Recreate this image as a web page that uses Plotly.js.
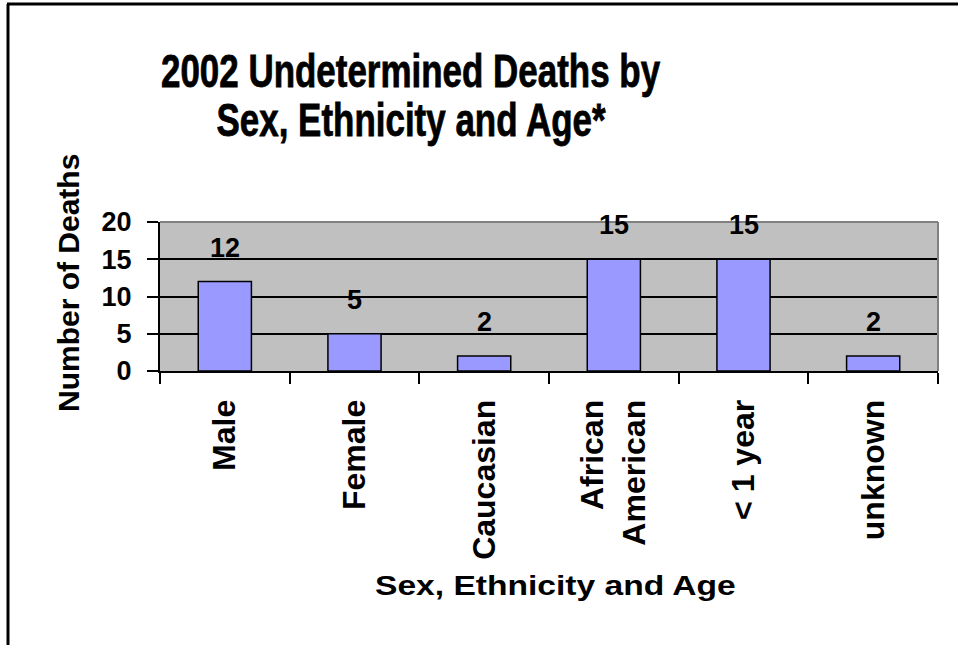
<!DOCTYPE html>
<html>
<head>
<meta charset="utf-8">
<script src="https://cdn.plot.ly/plotly-3.0.1.min.js"></script>
<style>
  html, body { margin: 0; padding: 0; background: #ffffff; }
  #chart { width: 961px; height: 645px; }
</style>
</head>
<body>
<div id="chart"></div>
<script>
// ---- data ----
const categories = ['Male', 'Female', 'Caucasian', 'African<br>American', '< 1 year', 'unknown'];
const deaths = [12, 5, 2, 15, 15, 2];
const yTickValues = [0, 5, 10, 15, 20];
const titleLines = ['2002 Undetermined Deaths by', 'Sex, Ethnicity and Age*'];
const xTitle = 'Sex, Ethnicity and Age';
const yTitle = 'Number of Deaths';

// ---- layout helpers ----
const W = 961, H = 645;
const M = { l: 160, r: 23, t: 222, b: 274 };
const PW = W - M.l - M.r, PH = H - M.t - M.b;
const px = x => (x - M.l) / PW;          // pixel -> paper x
const py = y => (H - M.b - y) / PH;      // pixel -> paper y

const fam = 'Liberation Sans, Arial, sans-serif';
const boldFont = size => ({ family: fam, size: size, color: '#000', weight: 'bold' });

const trace = {
  type: 'bar',
  x: categories,
  y: deaths,
  marker: { color: '#9999FF', line: { color: '#000000', width: 1.5 } },
  hoverinfo: 'skip'
};

const valueLabels = categories.map((c, i) => ({
  x: c, y: deaths[i], xref: 'x', yref: 'y',
  text: String(deaths[i]), showarrow: false,
  yanchor: 'bottom', yshift: 17,
  font: boldFont(27)
}));

// horizontal stretch factors applied after render (reference text is drawn condensed / widened)
const stretch = {};
const heavy = {};

const extraAnn = [
  { text: titleLines[0], x: px(410), y: py(71), size: 46, sx: 0.76, heavy: true },
  { text: titleLines[1], x: px(411), y: py(120), size: 46, sx: 0.76, heavy: true },
  { text: xTitle, x: px(555), y: py(585), size: 28, sx: 1.2, heavy: false }
];

const annotations = valueLabels.slice();
extraAnn.forEach(a => {
  stretch[annotations.length] = a.sx;
  heavy[annotations.length] = a.heavy;
  annotations.push({
    text: a.text, xref: 'paper', yref: 'paper', x: a.x, y: a.y,
    xanchor: 'center', yanchor: 'middle', showarrow: false,
    font: boldFont(a.size)
  });
});
annotations.push({
  text: yTitle, xref: 'paper', yref: 'paper',
  x: px(68), y: py(283), xanchor: 'center', yanchor: 'middle',
  textangle: -90, showarrow: false,
  font: boldFont(30)
});

const layout = {
  width: W, height: H,
  margin: M,
  paper_bgcolor: '#ffffff',
  plot_bgcolor: '#C0C0C0',
  showlegend: false,
  bargap: 0.59,
  xaxis: {
    type: 'category',
    tickson: 'boundaries',
    ticks: 'outside', ticklen: 11, tickwidth: 2, tickcolor: '#000',
    tickangle: -90,
    ticklabelstandoff: 14,
    tickfont: boldFont(32),
    showline: true, linecolor: '#000', linewidth: 2,
    showgrid: false, zeroline: false,
    fixedrange: true
  },
  yaxis: {
    range: [0, 20],
    tickvals: yTickValues,
    ticks: 'outside', ticklen: 11, tickwidth: 2, tickcolor: '#000',
    ticklabelstandoff: 10,
    tickfont: boldFont(27),
    showline: true, linecolor: '#000', linewidth: 2,
    showgrid: true, gridcolor: '#000', gridwidth: 2,
    zeroline: false,
    fixedrange: true
  },
  annotations: annotations,
  shapes: [
    // plot area top and right edges (grey)
    { type: 'line', xref: 'paper', yref: 'paper', x0: 0, x1: 1, y0: 1, y1: 1, line: { color: '#808080', width: 2 } },
    { type: 'line', xref: 'paper', yref: 'paper', x0: 1, x1: 1, y0: 0, y1: 1, line: { color: '#808080', width: 2 } },
    // outer chart frame (top and left)
    { type: 'line', xref: 'paper', yref: 'paper', x0: px(7), x1: px(958), y0: py(4), y1: py(4), line: { color: '#000', width: 3 } },
    { type: 'line', xref: 'paper', yref: 'paper', x0: px(8), x1: px(8), y0: py(4), y1: py(646), line: { color: '#000', width: 3 } }
  ]
};

Plotly.newPlot('chart', [trace], layout, { staticPlot: true, displayModeBar: false }).then(gd => {
  gd.querySelectorAll('g.annotation').forEach(g => {
    const idx = +g.getAttribute('data-index');
    const s = stretch[idx];
    if (!s) return;
    const t = g.querySelector('text.annotation-text');
    if (!t) return;
    const bb = t.getBBox();
    const cx = bb.x + bb.width / 2;
    t.setAttribute('transform', `translate(${cx},0) scale(${s},1) translate(${-cx},0)`);
    if (heavy[idx]) {
      t.style.stroke = '#000';
      t.style.strokeWidth = '0.8px';
    }
  });
});
</script>
</body>
</html>
